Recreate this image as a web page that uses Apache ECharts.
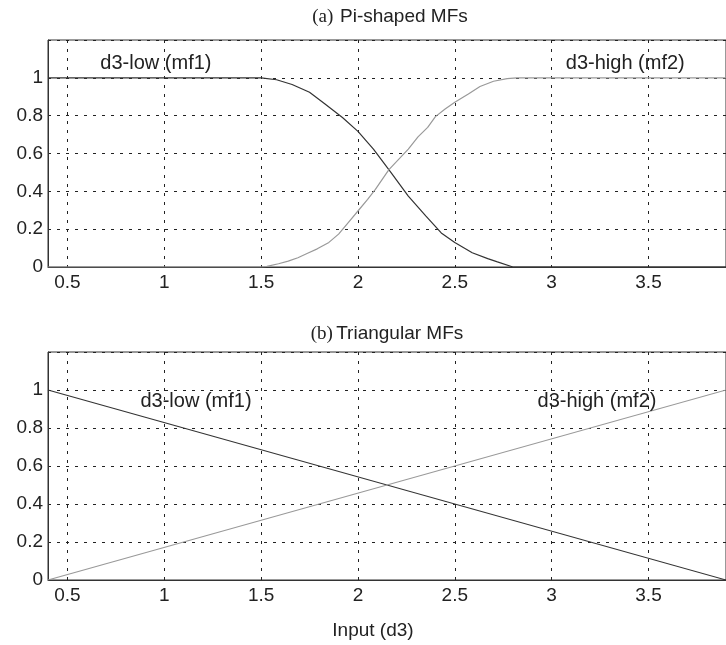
<!DOCTYPE html>
<html>
<head>
<meta charset="utf-8">
<script src="https://cdn.jsdelivr.net/npm/echarts@6/dist/echarts.min.js"></script>
<style>
  html, body { margin: 0; padding: 0; background: #fff; }
  #chart { width: 726px; height: 645px; }
</style>
</head>
<body>
<div id="chart"></div>
<script>
// Input axis ticks (d3) and membership grades
const xTicks = [0.5, 1, 1.5, 2, 2.5, 3, 3.5];

// (a) Pi-shaped membership functions
const piLowX  = [0.4, 1.5, 1.58, 1.66, 1.75, 1.83, 1.92, 2.0, 2.08, 2.17, 2.26, 2.35, 2.43, 2.5, 2.59, 2.67, 2.72, 2.8, 3.9];
const piLowY  = [1, 1, 0.99, 0.965, 0.924, 0.862, 0.79, 0.717, 0.623, 0.5, 0.375, 0.27, 0.18, 0.13, 0.075, 0.044, 0.027, 0, 0];
const piHighX = [0.4, 1.5, 1.53, 1.59, 1.64, 1.69, 1.74, 1.79, 1.85, 1.9, 1.95, 2.0, 2.05, 2.09, 2.16, 2.26, 2.31, 2.36, 2.4, 2.45, 2.5, 2.57, 2.63, 2.7, 2.77, 2.82, 3.9];
const piHighY = [0, 0, 0.003, 0.017, 0.031, 0.049, 0.073, 0.096, 0.13, 0.174, 0.235, 0.296, 0.357, 0.41, 0.515, 0.623, 0.688, 0.738, 0.795, 0.835, 0.871, 0.915, 0.954, 0.982, 0.996, 1, 1];

// (b) Triangular membership functions
const triLowX  = [0.4, 3.9];
const triLowY  = [1, 0];
const triHighX = [0.4, 3.9];
const triHighY = [0, 1];

const mfNames = ['d3-low (mf1)', 'd3-high (mf2)'];

const pairs = (xs, ys) => xs.map((x, i) => [x, ys[i]]);

const FONT = 'Liberation Sans, Arial, sans-serif';
const SERIF = 'Liberation Serif, Times New Roman, serif';
const INK = '#222';

function xAxisFor(gridIndex) {
  return {
    type: 'value', gridIndex, min: 0.4, max: 3.9,
    axisLine: { show: true, lineStyle: { color: '#333', width: 1 } },
    axisTick: { show: false, customValues: xTicks },
    axisLabel: { customValues: xTicks, color: INK, fontFamily: FONT, fontSize: 19, margin: 6 },
    splitLine: { show: true, lineStyle: { color: '#222', type: [3, 6], width: 1 } }
  };
}
function yAxisFor(gridIndex) {
  return {
    type: 'value', gridIndex, min: 0, max: 1.2, interval: 0.2,
    axisLine: { show: true, lineStyle: { color: '#333', width: 1 } },
    axisTick: { show: false },
    axisLabel: {
      color: INK, fontFamily: FONT, fontSize: 19, margin: 5,
      formatter: v => (v > 1.05 ? '' : String(+v.toFixed(1)))
    },
    splitLine: { show: true, lineStyle: { color: '#222', type: [3, 6], width: 1 } }
  };
}

function curve(name, data, gridIndex, color, tag) {
  return {
    name, type: 'line', data, xAxisIndex: gridIndex, yAxisIndex: gridIndex,
    showSymbol: false, symbol: 'none', animation: false,
    lineStyle: { color, width: 1.2 },
    markPoint: {
      symbol: 'circle', symbolSize: 0, animation: false,
      label: { show: true, formatter: name, color: INK, fontFamily: FONT, fontSize: 20, position: 'inside' },
      data: [{ coord: tag }]
    },
    z: 3
  };
}

const chart = echarts.init(document.getElementById('chart'), null, { renderer: 'canvas' });
chart.setOption({
  backgroundColor: '#fff',
  animation: false,
  grid: [
    { left: 48, top: 40, width: 680, height: 227, show: true, borderColor: '#333', borderWidth: 1 },
    { left: 48, top: 352, width: 680, height: 228, show: true, borderColor: '#333', borderWidth: 1 }
  ],
  xAxis: [xAxisFor(0), xAxisFor(1)],
  yAxis: [yAxisFor(0), yAxisFor(1)],
  series: [
    curve(mfNames[0], pairs(piLowX, piLowY), 0, '#333', [0.957, 1.076]),
    curve(mfNames[1], pairs(piHighX, piHighY), 0, '#999', [3.38, 1.076]),
    curve(mfNames[0], pairs(triLowX, triLowY), 1, '#333', [1.164, 0.938]),
    curve(mfNames[1], pairs(triHighX, triHighY), 1, '#999', [3.234, 0.938])
  ],
  graphic: [
    {
      type: 'text', x: 390, y: 17,
      style: {
        text: '{s|(a)}  {t|Pi-shaped MFs}', align: 'center', verticalAlign: 'middle',
        rich: {
          s: { fontFamily: SERIF, fontSize: 19, fill: INK },
          t: { fontFamily: FONT, fontSize: 19, fill: INK }
        }
      }
    },
    {
      type: 'text', x: 387, y: 334,
      style: {
        text: '{s|(b)} {t|Triangular MFs}', align: 'center', verticalAlign: 'middle',
        rich: {
          s: { fontFamily: SERIF, fontSize: 19, fill: INK },
          t: { fontFamily: FONT, fontSize: 19, fill: INK }
        }
      }
    },
    {
      type: 'text', x: 373, y: 631,
      style: { text: 'Input (d3)', font: '19px ' + FONT, fill: INK, align: 'center', verticalAlign: 'middle' }
    }
  ]
});
</script>
</body>
</html>
